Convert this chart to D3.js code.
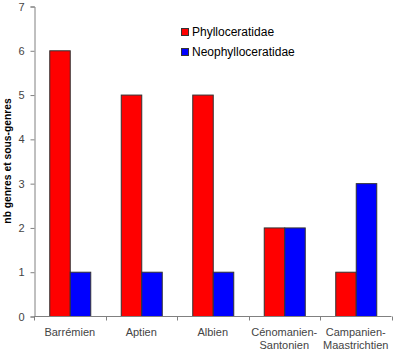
<!DOCTYPE html>
<html><head><meta charset="utf-8">
<script src="https://cdn.jsdelivr.net/npm/d3@7"></script>
<style>body{margin:0;background:#fff}svg{display:block}</style>
</head><body>
<script>
const categories = [["Barrémien"],["Aptien"],["Albien"],["Cénomanien-","Santonien"],["Campanien-","Maastrichtien"]];
const seriesNames = ["Phylloceratidae","Neophylloceratidae"];
const phyllo = [6,5,5,2,1];
const neophyllo = [1,1,1,2,3];
const colors = ["#ff0000","#0000ff"];
const yTicks = [0,1,2,3,4,5,6,7];

const W=400,H=355;
const svg=d3.select("body").append("svg").attr("width",W).attr("height",H);
const x0=34, x1=391.5, yTop=6, yBot=316;
const x=d3.scaleBand().domain(d3.range(categories.length)).range([x0,x1]).paddingInner(0).paddingOuter(0);
const y=d3.scaleLinear().domain([0,7]).range([yBot,yTop]);
const inner=d3.scaleBand().domain([0,1]).range([0,41]);
const groupW=41;

const data=[phyllo,neophyllo];
data.forEach((vals,s)=>{
  svg.append("g").selectAll("rect").data(vals).join("rect")
    .attr("x",(d,i)=>x(i)+(x.bandwidth()-groupW)/2+inner(s)+0.5)
    .attr("width",inner.bandwidth())
    .attr("y",d=>y(d)+0.5)
    .attr("height",d=>yBot-y(d))
    .attr("fill",colors[s]).attr("stroke","#333").attr("stroke-width",1);
});

// y axis
const ya=svg.append("g").attr("transform",`translate(${x0+0.5},0.5)`)
  .call(d3.axisLeft(y).tickValues(yTicks).tickSize(4).tickPadding(6).tickFormat(d3.format("d")));
ya.select(".domain").attr("stroke","#808080");
ya.selectAll(".tick line").attr("stroke","#808080");
ya.selectAll("text").attr("fill","#444").style("font-family","Liberation Sans, Arial, sans-serif").style("font-size","11px");

// x axis
const xa=svg.append("g").attr("transform",`translate(0,${yBot+0.5})`);
xa.append("line").attr("x1",x0).attr("x2",x1).attr("stroke","#808080");
xa.selectAll("line.t").data(d3.range(categories.length+1)).join("line").attr("class","t")
  .attr("x1",i=>Math.round(x0+i*x.bandwidth())+0.5).attr("x2",i=>Math.round(x0+i*x.bandwidth())+0.5)
  .attr("y1",0).attr("y2",4).attr("stroke","#808080");
categories.forEach((lines,i)=>{
  const t=svg.append("text").attr("x",x(i)+x.bandwidth()/2).attr("y",336).attr("text-anchor","middle")
    .attr("fill","#444").style("font-family","Liberation Sans, Arial, sans-serif").style("font-size","11px");
  lines.forEach((l,j)=>t.append("tspan").attr("x",x(i)+x.bandwidth()/2).attr("dy",j?13:0).text(l));
});

// y label
svg.append("text").attr("transform","translate(11,161) rotate(-90)").attr("text-anchor","middle")
  .style("font-family","Liberation Sans, Arial, sans-serif").style("font-size","10.3px").style("font-weight","bold")
  .attr("fill","#000").text("nb genres et sous-genres");

// legend
seriesNames.forEach((n,i)=>{
  svg.append("rect").attr("x",181.5).attr("y",28.5+i*20).attr("width",7).attr("height",7)
    .attr("fill",colors[i]).attr("stroke","#333");
  svg.append("text").attr("x",192).attr("y",36+i*20).style("font-family","Liberation Sans, Arial, sans-serif")
    .style("font-size","12px").attr("fill","#000").text(n);
});
</script>
</body></html>
